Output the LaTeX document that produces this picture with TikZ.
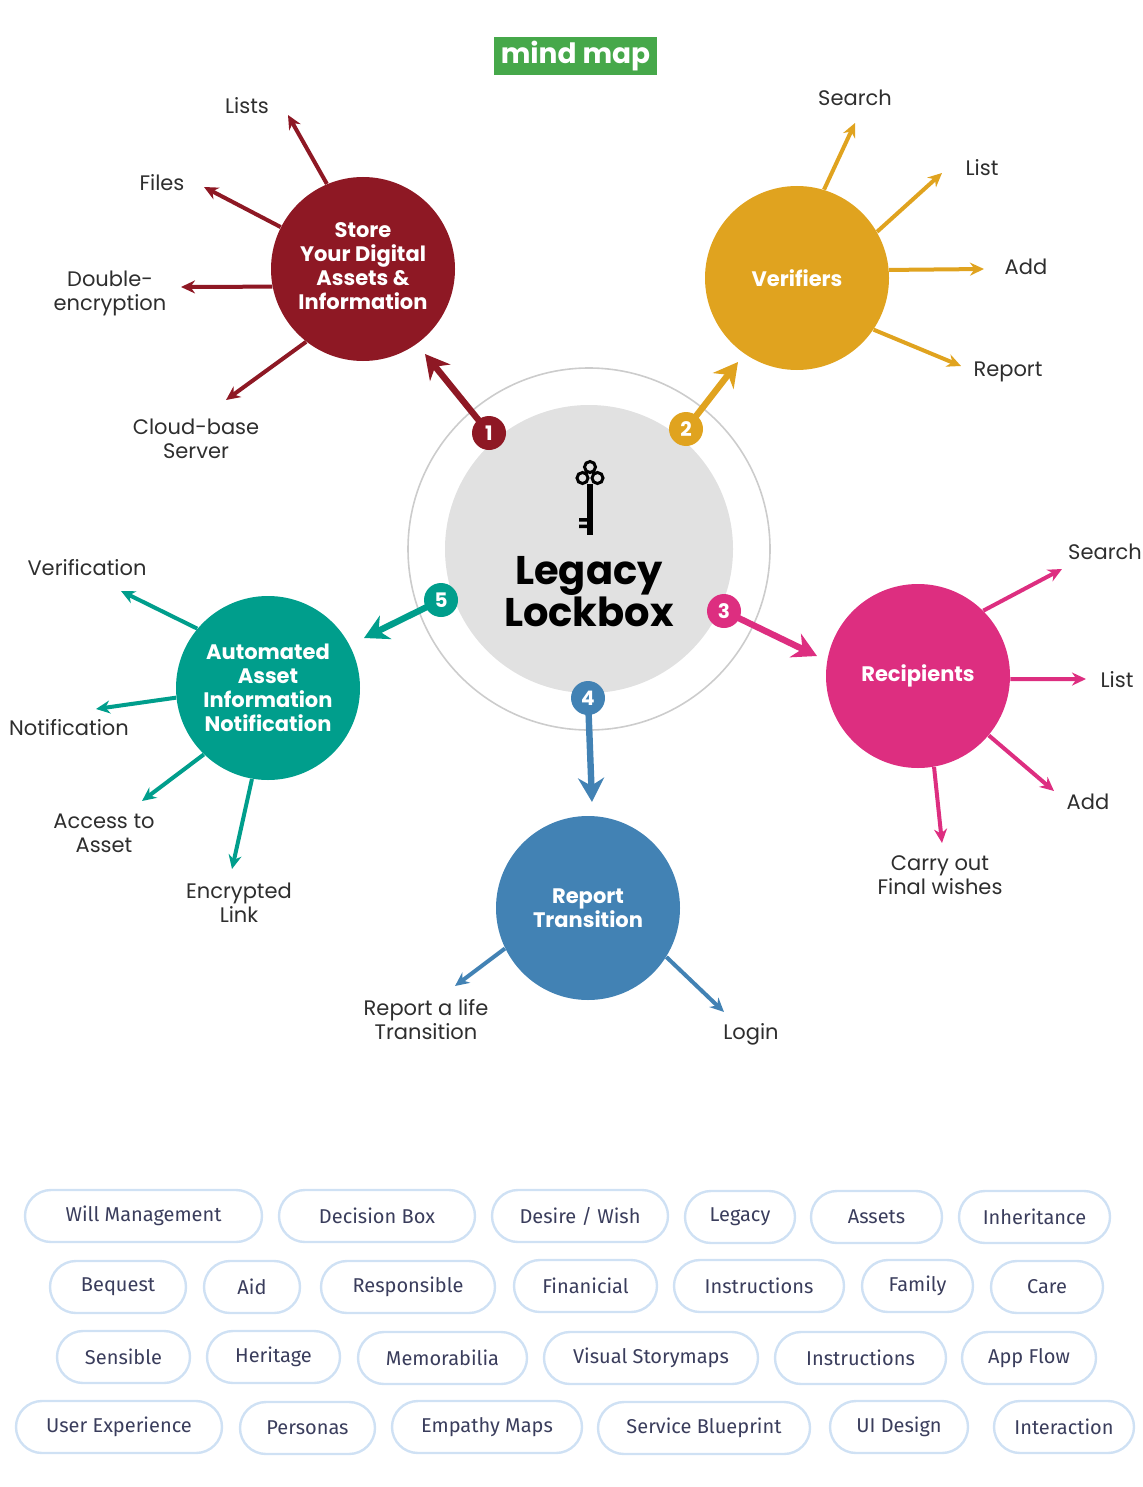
\documentclass[tikz,border=0pt]{standalone}
\usepackage{fontspec}
\setmainfont{Poppins}
\newfontfamily\pillfont{Fira Sans}
\usetikzlibrary{arrows.meta}
\definecolor{mapgreen}{HTML}{46A84A}
\definecolor{storered}{HTML}{8E1824}
\definecolor{verifyellow}{HTML}{E0A31F}
\definecolor{recippink}{HTML}{DD2E80}
\definecolor{reportblue}{HTML}{4282B4}
\definecolor{notifteal}{HTML}{009E8C}
\definecolor{ringgray}{HTML}{CCCCCC}
\definecolor{diskgray}{HTML}{E1E1E1}
\definecolor{labelgray}{HTML}{2E2E2E}
\definecolor{pillblue}{HTML}{CFE1F4}
\definecolor{pilltext}{HTML}{3A3D5C}

\begin{document}
\begin{tikzpicture}[x=0.5pt,y=-0.5pt]
	\tikzstyle{every node}+=[inner sep=0pt]
	\tikzstyle{topic}=[circle, minimum size=92pt, text=white, align=center, font=\bfseries\fontsize{10.5}{12}\selectfont]
	\tikzstyle{leaf}=[text=labelgray, align=center, font=\fontsize{10.5}{12}\selectfont]
	\tikzstyle{badge}=[circle, minimum size=17pt, text=white, font=\bfseries\fontsize{10}{10}\selectfont]
	\tikzstyle{mainarrow}=[line width=3.2pt, -{Stealth[length=12pt,width=13pt]}]
	\tikzstyle{subarrow}=[line width=2pt, -{Stealth[length=7pt,width=6.5pt]}]
	\tikzstyle{pill}=[draw=pillblue, line width=1.2pt, rounded corners=13pt, minimum height=26pt, text=pilltext, font=\pillfont\fontsize{10}{10}\selectfont]
	\useasboundingbox (0,0) rectangle (1142,1487);
	\node [fill=mapgreen, minimum width=81.5pt, minimum height=19pt, text=white, font=\bfseries\fontsize{14}{14}\selectfont] (title) at (575.5,56) {\raisebox{-1pt}{mind map}};
	\node [circle, draw=ringgray, line width=0.8pt, minimum size=181pt] (ring) at (589,549) {};
	\node [circle, fill=diskgray, minimum size=144pt] (hub) at (589,549) {};
	\draw [black, line width=1.5pt] (590,467) circle (5.5) (582.5,478) circle (5.5) (597.5,478) circle (5.5);
	\fill [black] (586.5,484) rectangle (593,535);
	\fill [black] (579,518) rectangle (587,521.5) (579,524.5) rectangle (587,528);
	\node [align=center, font=\bfseries\fontsize{20}{21}\selectfont] (lockbox) at (589,592) {Legacy\\Lockbox};
	\node [topic, fill=storered] (store) at (363,269) {\raisebox{2pt}{\begin{tabular}{@{}c@{}}Store\\Your Digital\\Assets \&\\Information\end{tabular}}};
	\node [topic, fill=verifyellow] (verifiers) at (797,278) {Verifiers};
	\node [topic, fill=recippink] (recipients) at (918,676) {Recipients};
	\node [topic, fill=reportblue] (report) at (588,908) {Report\\Transition};
	\node [topic, fill=notifteal] (autonotif) at (268,688) {Automated\\Asset\\Information\\Notification};
	\coordinate (c1) at (489,433);
	\coordinate (c2) at (686,429);
	\coordinate (c3) at (724,611);
	\coordinate (c4) at (588,698);
	\coordinate (c5) at (441,600);
	\coordinate (t-store) at (425,354);
	\coordinate (t-verifiers) at (738,362);
	\coordinate (t-recipients) at (817,656);
	\coordinate (t-report) at (592,802);
	\coordinate (t-autonotif) at (364,638);
	\draw [mainarrow, storered] (c1) -- (t-store);
	\draw [mainarrow, verifyellow] (c2) -- (t-verifiers);
	\draw [mainarrow, recippink] (c3) -- (t-recipients);
	\draw [mainarrow, reportblue] (c4) -- (t-report);
	\draw [mainarrow, notifteal] (c5) -- (t-autonotif);
	\node [badge, fill=storered] (b1) at (c1) {1};
	\node [badge, fill=verifyellow] (b2) at (c2) {2};
	\node [badge, fill=recippink] (b3) at (c3) {3};
	\node [badge, fill=reportblue] (b4) at (c4) {4};
	\node [badge, fill=notifteal] (b5) at (c5) {5};
	\node [leaf] (lists) at (247,106) {Lists};
	\node [leaf] (files) at (162,183) {Files};
	\node [leaf] (double) at (110,293) {Double-\\encryption};
	\node [leaf] (cloud) at (196,439) {Cloud-base\\Server};
	\coordinate (t-lists) at (288,115);
	\coordinate (t-files) at (204,187);
	\coordinate (t-double) at (181,287);
	\coordinate (t-cloud) at (226,400);
	\draw [subarrow, storered] (store.113) -- (t-lists);
	\draw [subarrow, storered] (store.153) -- (t-files);
	\draw [subarrow, storered] (store.191) -- (t-double);
	\draw [subarrow, storered] (store.232) -- (t-cloud);
	\node [leaf] (vsearch) at (855,98) {Search};
	\node [leaf] (vlist) at (982,168) {List};
	\node [leaf] (vadd) at (1026,267) {Add};
	\node [leaf] (vreport) at (1008,372) {Report};
	\coordinate (t-vsearch) at (855,123);
	\coordinate (t-vlist) at (942,173);
	\coordinate (t-vadd) at (984,269);
	\coordinate (t-vreport) at (961,366);
	\draw [subarrow, verifyellow] (verifiers.73) -- (t-vsearch);
	\draw [subarrow, verifyellow] (verifiers.30) -- (t-vlist);
	\draw [subarrow, verifyellow] (verifiers.5) -- (t-vadd);
	\draw [subarrow, verifyellow] (verifiers.326) -- (t-vreport);
	\node [leaf] (rsearch) at (1105,552) {Search};
	\node [leaf] (rlist) at (1117,680) {List};
	\node [leaf] (radd) at (1088,802) {Add};
	\node [leaf] (rwishes) at (940,875) {Carry out\\Final wishes};
	\coordinate (t-rsearch) at (1062,569);
	\coordinate (t-rlist) at (1086,679);
	\coordinate (t-radd) at (1054,791);
	\coordinate (t-rwishes) at (942,843);
	\draw [subarrow, recippink] (recipients.45) -- (t-rsearch);
	\draw [subarrow, recippink] (recipients.358) -- (t-rlist);
	\draw [subarrow, recippink] (recipients.320) -- (t-radd);
	\draw [subarrow, recippink] (recipients.280) -- (t-rwishes);
	\node [leaf] (lifetrans) at (426,1020) {Report a life\\Transition};
	\node [leaf] (login) at (751,1034) {Login};
	\coordinate (t-lifetrans) at (455,986);
	\coordinate (t-login) at (724,1012);
	\draw [subarrow, reportblue] (report.206) -- (t-lifetrans);
	\draw [subarrow, reportblue] (report.328) -- (t-login);
	\node [leaf] (verification) at (87,568) {Verification};
	\node [leaf] (notification) at (69,728) {Notification};
	\node [leaf] (access) at (104,833) {Access to\\Asset};
	\node [leaf] (enclink) at (239,903) {Encrypted\\Link};
	\coordinate (t-verification) at (121,591);
	\coordinate (t-notification) at (96,709);
	\coordinate (t-access) at (142,801);
	\coordinate (t-enclink) at (232,869);
	\draw [subarrow, notifteal] (autonotif.140) -- (t-verification);
	\draw [subarrow, notifteal] (autonotif.186) -- (t-notification);
	\draw [subarrow, notifteal] (autonotif.226) -- (t-access);
	\draw [subarrow, notifteal] (autonotif.260) -- (t-enclink);
	\foreach \cx/\cy/\w/\t [count=\i] in {
		143.5/1216/237/{Will Management}, 377/1216/196/{Decision Box}, 580/1216/176/{Desire / Wish},
		740/1217/110/{Legacy}, 876.5/1217/131/{Assets}, 1034.5/1217/151/{Inheritance},
		118/1287/136/{Bequest}, 252/1287/96/{Aid}, 408/1287/174/{Responsible},
		585.5/1286/143/{Finanicial}, 759/1286/170/{Instructions}, 917.5/1286/111/{Family}, 1047/1287/112/{Care},
		123.5/1357/133/{Sensible}, 273.5/1357/133/{Heritage}, 442.5/1358/169/{Memorabilia},
		651/1358/214/{Visual Storymaps}, 860.5/1358/171/{Instructions}, 1029/1358/134/{App Flow},
		119/1427/206/{User Experience}, 307.5/1428/135/{Personas}, 487/1427/190/{Empathy Maps},
		704/1428/212/{Service Blueprint}, 899/1427/138/{UI Design}, 1064/1427/140/{Interaction}}
		\node [pill, minimum width=\w*0.5pt] (pill\i) at (\cx,\cy) {\t};
\end{tikzpicture}
\end{document}
